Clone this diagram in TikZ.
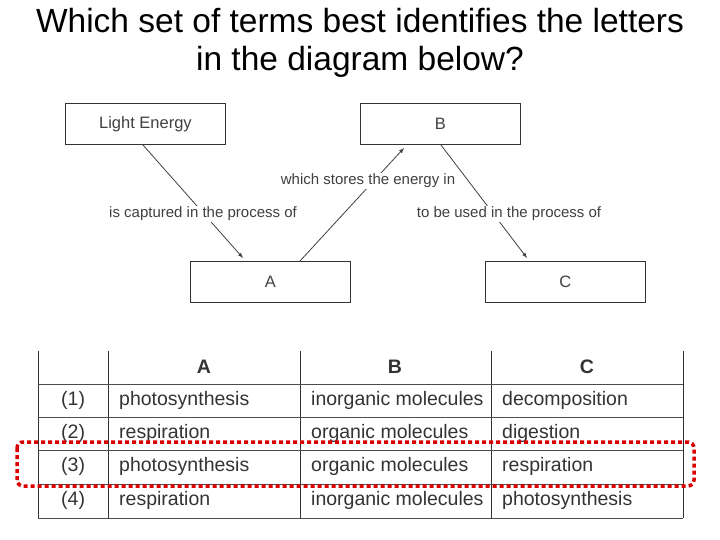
\documentclass[tikz,border=0pt]{standalone}
\usepackage{fontspec}
\setmainfont{Liberation Sans}
\begin{document}
\begin{tikzpicture}[x=1pt,y=-1pt,
  box/.style={draw=black!80,line width=0.8pt,minimum width=160pt,minimum height=41pt,inner sep=0pt,font=\fontsize{16.5}{18}\selectfont,text=black!75},
  lbl/.style={font=\fontsize{15}{17}\selectfont,text=black!75,inner sep=1pt},
  arr/.style={->,>=latex,line width=0.8pt,draw=black!75},
  cell/.style={font=\fontsize{19.5}{21}\selectfont,text=black!80,anchor=west,inner sep=0pt},
  hd/.style={font=\bfseries\fontsize{19.5}{21}\selectfont,text=black!80,inner sep=0pt}]
\useasboundingbox (0,0) rectangle (720,540);
\node[font=\fontsize{33.5}{38}\selectfont,align=center] (title) at (360,43) {Which set of terms best identifies the letters\\in the diagram below?};
\node[box,anchor=north west] (le) at (65,103) {Light Energy};
\node[box,anchor=north west] (b) at (360,103) {B};
\node[box,anchor=north west] (a) at (190,261) {A};
\node[box,anchor=north west] (c) at (485,261) {C};
\coordinate (p1) at (143,145); \coordinate (q1) at (243,258);
\coordinate (p2) at (300,261); \coordinate (q2) at (404,148);
\coordinate (p3) at (441,145); \coordinate (q3) at (527,258);
\draw[arr] (p1) -- (q1);
\draw[arr] (p2) -- (q2);
\draw[arr] (p3) -- (q3);
\node[lbl,fill=white] (l1) at (203,214) {is captured in the process of};
\node[lbl,fill=white] (l2) at (368,181) {which stores the energy in};
\node[lbl,fill=white] (l3) at (509,214) {to be used in the process of};
% table
\foreach \x in {38,108,300,491,683} \draw[black!80,line width=0.8pt] (\x,351) -- (\x,518);
\foreach \y in {384,417,450,484,518} \draw[black!70,line width=0.6pt] (38,\y) -- (683,\y);
\node[hd] (ha) at (204,367) {A};
\node[hd] (hb) at (395,367) {B};
\node[hd] (hc) at (587,367) {C};
\foreach \n/\y/\A/\B/\C in {1/400/photosynthesis/inorganic molecules/decomposition,2/433/respiration/organic molecules/digestion,3/466/photosynthesis/organic molecules/respiration,4/500/respiration/inorganic molecules/photosynthesis}{
 \node[cell] (n\n) at (61,\y) {(\n)};
 \node[cell] (a\n) at (119,\y) {\A};
 \node[cell] (b\n) at (311,\y) {\B};
 \node[cell] (c\n) at (502,\y) {\C};
}
\draw[red!85!black,line width=3.5pt,dash pattern=on 4pt off 3pt,rounded corners=6pt] (17,442) rectangle (694,486);
\end{tikzpicture}
\end{document}
